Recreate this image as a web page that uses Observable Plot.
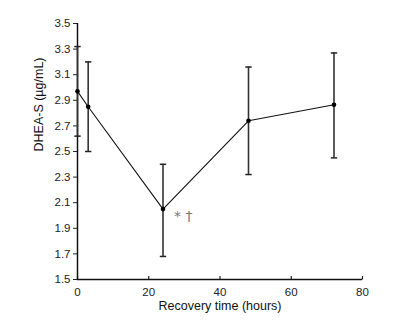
<!DOCTYPE html>
<html><head><meta charset="utf-8">
<script src="https://cdn.jsdelivr.net/npm/d3@7"></script>
<script src="https://cdn.jsdelivr.net/npm/@observablehq/plot@0.6"></script>
<style>body{margin:0;background:#fff}</style>
</head><body><div id="chart"></div>
<script>
const time = [0, 3, 24, 48, 72];
const mean = [2.97, 2.85, 2.05, 2.74, 2.865];
const low = [2.62, 2.50, 1.68, 2.32, 2.45];
const high = [3.32, 3.20, 2.40, 3.16, 3.27];
const xTicks = [0, 20, 40, 60, 80];
const yTicks = [1.5, 1.7, 1.9, 2.1, 2.3, 2.5, 2.7, 2.9, 3.1, 3.3, 3.5];
const noteX = [24], noteY = [2.05], noteText = ["* \u2020"];

const data = time.map((t, i) => ({t, m: mean[i], lo: low[i], hi: high[i]}));
const caps = data.flatMap(d => [{t: d.t, v: d.lo}, {t: d.t, v: d.hi}]);
const notes = noteX.map((x, i) => ({x, y: noteY[i], text: noteText[i]}));
const yBase = yTicks[0];

const capSymbol = {
  draw(ctx, size) { ctx.moveTo(-3.2, 0); ctx.lineTo(3.2, 0); }
};
const tickUpSymbol = {
  draw(ctx, size) { ctx.moveTo(0, 0); ctx.lineTo(0, -3.5); }
};

const chart = Plot.plot({
  width: 408, height: 332,
  marginLeft: 77, marginRight: 46, marginTop: 23, marginBottom: 53,
  style: {fontFamily: "'Liberation Sans', Arial, Helvetica, sans-serif", fontSize: "11.5px", color: "#222", background: "#fff"},
  x: {domain: [0, 80]},
  y: {domain: [1.5, 3.5]},
  marks: [
    Plot.axisY({ticks: yTicks, tickFormat: d => d.toFixed(1), tickSize: 4, tickPadding: 3, label: null, stroke: "#222"}),
    Plot.axisX({ticks: xTicks, tickSize: 0, tickPadding: 8, label: null}),
    Plot.dot(xTicks, {x: d => d, y: () => yBase, symbol: tickUpSymbol, stroke: "#222", strokeWidth: 1.2, r: 3}),
    Plot.ruleY([1.5], {stroke: "#111", strokeWidth: 1.5}),
    Plot.ruleX([0], {stroke: "#111", strokeWidth: 1.5}),
    Plot.ruleX(data, {x: "t", y1: "lo", y2: "hi", stroke: "#333", strokeWidth: 1.6}),
    Plot.dot(caps, {x: "t", y: "v", symbol: capSymbol, stroke: "#222", strokeWidth: 1.5, r: 3}),
    Plot.line(data, {x: "t", y: "m", stroke: "#111", strokeWidth: 1.1}),
    Plot.dot(data, {x: "t", y: "m", fill: "#000", r: 2.3}),
    Plot.text(notes, {x: "x", y: "y", text: "text", dx: 11, dy: 7, textAnchor: "start", fill: "#777", fontSize: 14, fontFamily: "'DejaVu Sans', sans-serif"}),
    Plot.text(["Recovery time (hours)"], {frameAnchor: "bottom", dy: 30, fontSize: 12.5, fill: "#111", text: d => d}),
    Plot.text(["DHEA-S (\u00b5g/mL)"], {frameAnchor: "left", dx: -39, rotate: -90, fontSize: 12.5, fill: "#111", text: d => d})
  ]
});
document.getElementById("chart").appendChild(chart);
</script>
</body></html>
